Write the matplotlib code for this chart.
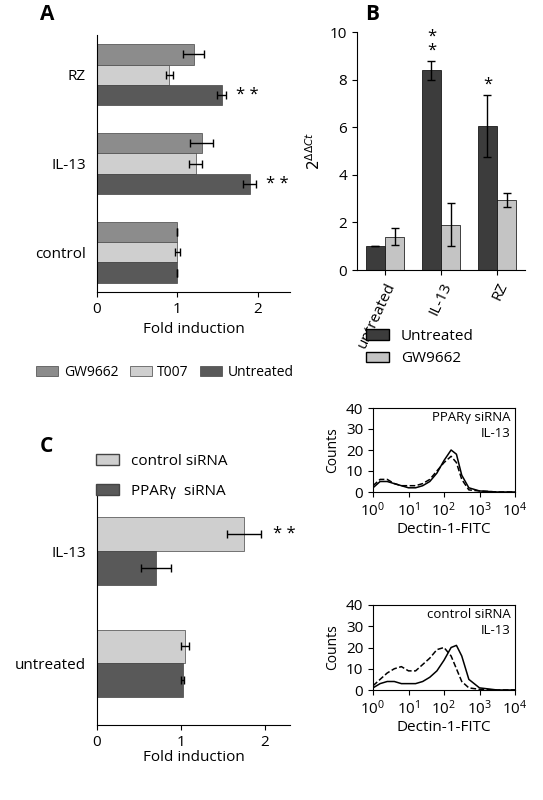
import numpy as np
import matplotlib.pyplot as plt
from matplotlib.patches import Patch

plt.rcParams['font.family'] = ['Open Sans', 'DejaVu Sans']

W, H = 543, 800
DARK, MID, LIGHT = "#595959", "#8c8c8c", "#cfcfcf"

# Panel A
a_groups = ["control", "IL-13", "RZ"]
a_gw = [1.0, 1.3, 1.2]
a_gw_err = [0.0, 0.14, 0.13]
a_t007 = [1.0, 1.23, 0.9]
a_t007_err = [0.03, 0.08, 0.04]
a_unt = [1.0, 1.9, 1.55]
a_unt_err = [0.0, 0.08, 0.06]

# Panel B
b_groups = ["untreated", "IL-13", "RZ"]
b_unt = [1.0, 8.4, 6.05]
b_unt_err = [0.0, 0.4, 1.3]
b_gw = [1.4, 1.9, 2.95]
b_gw_err = [0.35, 0.9, 0.3]

# Panel C
c_groups = ["untreated", "IL-13"]
c_ctrl = [1.05, 1.75]
c_ctrl_err = [0.05, 0.2]
c_ppar = [1.02, 0.7]
c_ppar_err = [0.02, 0.18]

# Flow histograms (log10 fluorescence vs counts)
fx = [0.0, 0.2, 0.4, 0.6, 0.8, 1.0, 1.2, 1.4, 1.6, 1.8, 2.0, 2.2, 2.35, 2.5, 2.7, 3.0, 3.5, 4.0]
top_solid = [2, 5, 5, 4, 3, 2, 2, 3, 5, 9, 15, 20, 18, 8, 2, 0.5, 0, 0]
top_dash = [3, 6, 6, 4, 3, 3, 3, 4, 6, 10, 14, 17, 14, 6, 1, 0.5, 0, 0]
bot_solid = [1, 3, 4, 4, 3, 3, 3, 4, 6, 9, 14, 20, 21, 16, 5, 1, 0, 0]
bot_dash = [2, 5, 8, 10, 11, 9, 9, 12, 15, 19, 20, 16, 10, 4, 1, 0.3, 0, 0]


def ax_px(x0, y0, x1, y1):
    return fig.add_axes([x0 / W, 1 - y1 / H, (x1 - x0) / W, (y1 - y0) / H])


def style(ax):
    for s in ["top", "right"]:
        ax.spines[s].set_visible(False)
    ax.tick_params(labelsize=11)


fig = plt.figure(figsize=(W / 100, H / 100), dpi=100)
ek = dict(ecolor="black", capsize=3, lw=1)

# A
ax = ax_px(97, 35, 290, 292)
style(ax)
y = np.arange(3)
h = 0.23
ax.barh(y + h, a_gw, h, xerr=a_gw_err, color=MID, edgecolor="#444", lw=0.5, error_kw=ek)
ax.barh(y, a_t007, h, xerr=a_t007_err, color=LIGHT, edgecolor="#444", lw=0.5, error_kw=ek)
ax.barh(y - h, a_unt, h, xerr=a_unt_err, color=DARK, edgecolor="#444", lw=0.5, error_kw=ek)
for i in (1, 2):
    ax.text(a_unt[i] + a_unt_err[i] + 0.12, y[i] - h, "* *", va="center", fontsize=12)
ax.set_yticks(y)
ax.set_yticklabels(a_groups)
ax.tick_params(axis="y", length=0, pad=8)
ax.set_ylim(-0.45, 2.45)
ax.set_xlim(0, 2.4)
ax.set_xticks([0, 1, 2])
ax.set_xlabel("Fold induction", fontsize=11)
fig.text(40 / W, 1 - 14 / H, "A", fontsize=15, fontweight="bold", va="center")
fig.legend(handles=[Patch(fc=c, ec="#444", lw=0.5) for c in (MID, LIGHT, DARK)],
           labels=["GW9662", "T007", "Untreated"], ncol=3, frameon=False,
           loc="center", bbox_to_anchor=(165 / W, 1 - 372 / H), fontsize=10,
           handlelength=1.6, columnspacing=0.8, handletextpad=0.4)

# B
ax = ax_px(357, 32, 525, 270)
style(ax)
x = np.arange(3)
w = 0.34
ax.bar(x - w / 2, b_unt, w, yerr=b_unt_err, color="#3c3c3c", edgecolor="black", lw=0.5, error_kw=ek)
ax.bar(x + w / 2, b_gw, w, yerr=b_gw_err, color="#c4c4c4", edgecolor="black", lw=0.5, error_kw=ek)
ax.text(1 - w / 2, 8.9, "*\n*", ha="center", va="bottom", fontsize=12, linespacing=0.8)
ax.text(2 - w / 2, 7.45, "*", ha="center", va="bottom", fontsize=12)
ax.set_ylim(0, 10)
ax.set_xlim(-0.5, 2.5)
ax.set_yticks([0, 2, 4, 6, 8, 10])
ax.set_xticks(x)
ax.set_xticklabels(b_groups, rotation=65, ha="right", rotation_mode="anchor")
ax.set_ylabel(r"$2^{\Delta\Delta Ct}$", fontsize=11)
fig.text(365 / W, 1 - 14 / H, "B", fontsize=15, fontweight="bold", va="center")
fig.legend(handles=[Patch(fc="#3c3c3c", ec="black"), Patch(fc="#c4c4c4", ec="black")],
           labels=["Untreated", "GW9662"], frameon=False, loc="upper left",
           bbox_to_anchor=(352 / W, 1 - 315 / H), fontsize=11, handlelength=1.5)

# C
ax = ax_px(97, 495, 290, 725)
style(ax)
y = np.arange(2)
h = 0.3
ax.barh(y + h / 2, c_ctrl, h, xerr=c_ctrl_err, color=LIGHT, edgecolor="#444", lw=0.5, error_kw=ek)
ax.barh(y - h / 2, c_ppar, h, xerr=c_ppar_err, color=DARK, edgecolor="#444", lw=0.5, error_kw=ek)
ax.text(c_ctrl[1] + c_ctrl_err[1] + 0.15, y[1] + h / 2, "* *", va="center", fontsize=12)
ax.set_yticks(y)
ax.set_yticklabels(c_groups)
ax.tick_params(axis="y", length=0, pad=8)
ax.set_ylim(-0.55, 1.5)
ax.set_xlim(0, 2.3)
ax.set_xticks([0, 1, 2])
ax.set_xlabel("Fold induction", fontsize=11, labelpad=0)
fig.text(40 / W, 1 - 447 / H, "C", fontsize=15, fontweight="bold", va="center")
fig.legend(handles=[Patch(fc=LIGHT, ec="#444"), Patch(fc=DARK, ec="#444")],
           labels=["control siRNA", "PPARγ  siRNA"], frameon=False, loc="upper left",
           bbox_to_anchor=(82 / W, 1 - 440 / H), fontsize=11, handlelength=1.5,
           labelspacing=1.0)

# Flow plots
for (y0, y1, solid, dash, lab) in [(408, 492, top_solid, top_dash, "PPARγ siRNA\nIL-13"),
                                    (605, 690, bot_solid, bot_dash, "control siRNA\nIL-13")]:
    ax = ax_px(373, y0, 515, y1)
    ax.plot(np.power(10.0, fx), solid, color="black", lw=1.1)
    ax.plot(np.power(10.0, fx), dash, color="black", lw=1.1, ls="--")
    ax.set_xscale("log")
    ax.set_xlim(1, 1e4)
    ax.set_ylim(0, 40)
    ax.set_yticks([0, 10, 20, 30, 40])
    ax.set_xticks([1, 10, 100, 1000, 10000])
    ax.tick_params(labelsize=11, which="major")
    ax.minorticks_off()
    ax.set_ylabel("Counts", fontsize=10)
    ax.set_xlabel("Dectin-1-FITC", fontsize=11, labelpad=1)
    ax.text(0.97, 0.97, lab, transform=ax.transAxes, ha="right", va="top",
            fontsize=9.5, linespacing=1.3)

fig.savefig("out.png", dpi=100)
